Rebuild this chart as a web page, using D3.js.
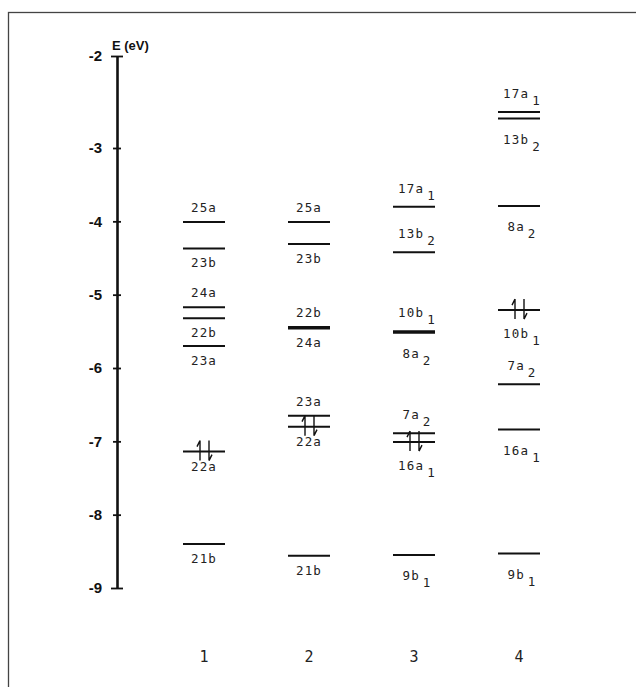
<!DOCTYPE html>
<html>
<head>
<meta charset="utf-8">
<script src="https://cdn.jsdelivr.net/npm/d3@7"></script>
<style>
  html, body { margin: 0; padding: 0; background: #fff; }
  svg { display: block; }
</style>
</head>
<body>
<script>
// ---------- data ----------
const columns = ["1", "2", "3", "4"];
const tickValues = [-2, -3, -4, -5, -6, -7, -8, -9];
const tickLabels = ["-2", "-3", "-4", "-5", "-6", "-7", "-8", "-9"];

const levelColumn   = ["1","1","1","1","1","1","1",
                       "2","2","2","2","2","2","2",
                       "3","3","3","3","3","3","3",
                       "4","4","4","4","4","4","4"];
const levelName     = ["25a","23b","24a","22b","23a","22a","21b",
                       "25a","23b","22b","24a","23a","22a","21b",
                       "17a","13b","10b","8a","7a","16a","9b",
                       "17a","13b","8a","10b","7a","16a","9b"];
const levelSub      = ["","","","","","","",
                       "","","","","","","",
                       "1","2","1","2","2","1","1",
                       "1","2","2","1","2","1","1"];
const levelEnergy   = [-4.01,-4.37,-5.17,-5.32,-5.70,-7.14,-8.40,
                       -4.01,-4.31,-5.44,-5.46,-6.65,-6.80,-8.56,
                       -3.80,-4.42,-5.50,-5.52,-6.89,-7.01,-8.55,
                       -2.61,-2.68,-3.79,-5.21,-6.22,-6.84,-8.53];
const levelOccupied = [false,false,false,false,false,true,false,
                       false,false,false,false,false,true,false,
                       false,false,false,false,false,true,false,
                       false,false,false,true,false,false,false];
const labelAbove    = [true,false,true,false,false,false,false,
                       true,false,true,false,true,false,false,
                       true,true,true,false,true,false,false,
                       true,false,false,false,true,false,false];

// ---------- drawing ----------
const W = 636, H = 687;
const svg = d3.select("body").append("svg").attr("width", W).attr("height", H);

// frame
svg.append("rect").attr("x", 8.5).attr("y", 12.5).attr("width", 700).attr("height", 700)
  .attr("fill", "none").attr("stroke", "#444").attr("stroke-width", 1.3);

const y = d3.scaleLinear().domain([-9, -3, -2]).range([588, 148, 56]);
const x = d3.scalePoint().domain(columns).range([204, 519]);
const axisX = 117;

// axis
const axis = d3.axisLeft(y).tickValues(tickValues)
  .tickFormat((d, i) => tickLabels[i]).tickSizeInner(5).tickSizeOuter(0).tickPadding(10);
const ag = svg.append("g").attr("transform", `translate(${axisX},0)`).call(axis);
ag.select(".domain").attr("stroke", "#111").attr("stroke-width", 2.6);
ag.selectAll(".tick line").attr("x1", (d) => (d === -2 || d === -9) ? -6 : -4)
  .attr("x2", (d) => (d === -2 || d === -9) ? 6 : 4)
  .attr("stroke", "#111").attr("stroke-width", 1.8);
ag.selectAll(".tick text").attr("font-family", "Liberation Sans, Arial, sans-serif")
  .attr("font-weight", "bold").attr("font-size", 15).attr("fill", "#111");

svg.append("text").attr("x", 112).attr("y", 50)
  .attr("font-family", "Liberation Sans, Arial, sans-serif").attr("font-weight", "bold")
  .attr("font-size", 13).attr("fill", "#111").text("E (eV)");

// levels
const halfW = 21;
const levels = levelName.map((n, i) => ({
  col: levelColumn[i], name: n, sub: levelSub[i], e: levelEnergy[i],
  occ: levelOccupied[i], above: labelAbove[i]
}));

const lg = svg.append("g");
lg.selectAll("line.level").data(levels).join("line").attr("class", "level")
  .attr("x1", d => x(d.col) - halfW).attr("x2", d => x(d.col) + halfW)
  .attr("y1", d => y(d.e)).attr("y2", d => y(d.e))
  .attr("stroke", "#111").attr("stroke-width", 2);

// labels
function labelOffset(d) {
  if (d.above) return d.sub ? -14 : -10;
  return d.sub ? (d.occ ? 28 : 25) : 19;
}
const labels = lg.selectAll("text.lab").data(levels).join("text").attr("class", "lab")
  .attr("x", d => x(d.col) + (d.sub ? 3 : 0))
  .attr("y", d => y(d.e) + labelOffset(d))
  .attr("text-anchor", "middle")
  .attr("font-family", "DejaVu Sans Mono, Liberation Mono, monospace")
  .attr("font-size", 12.5).attr("letter-spacing", 1.2).attr("fill", "#222");
labels.append("tspan").text(d => d.name);
labels.filter(d => d.sub).append("tspan").attr("dx", 3).attr("dy", 7).text(d => d.sub);

// electron pairs
const occ = levels.filter(d => d.occ);
const eg = lg.selectAll("g.pair").data(occ).join("g").attr("class", "pair")
  .attr("transform", d => `translate(${x(d.col)},${y(d.e)})`);
eg.append("path").attr("d", "M-4,9 L-4,-11 M-4,-11 L-7,-5")
  .attr("stroke", "#111").attr("stroke-width", 1.4).attr("fill", "none");
eg.append("path").attr("d", "M5,-11 L5,9 M5,9 L8,3")
  .attr("stroke", "#111").attr("stroke-width", 1.4).attr("fill", "none");

// column labels
svg.append("g").selectAll("text").data(columns).join("text")
  .attr("x", d => x(d)).attr("y", 662).attr("text-anchor", "middle")
  .attr("font-family", "DejaVu Sans Mono, Liberation Mono, monospace")
  .attr("font-size", 15).attr("fill", "#222").text(d => d);
</script>
</body>
</html>
